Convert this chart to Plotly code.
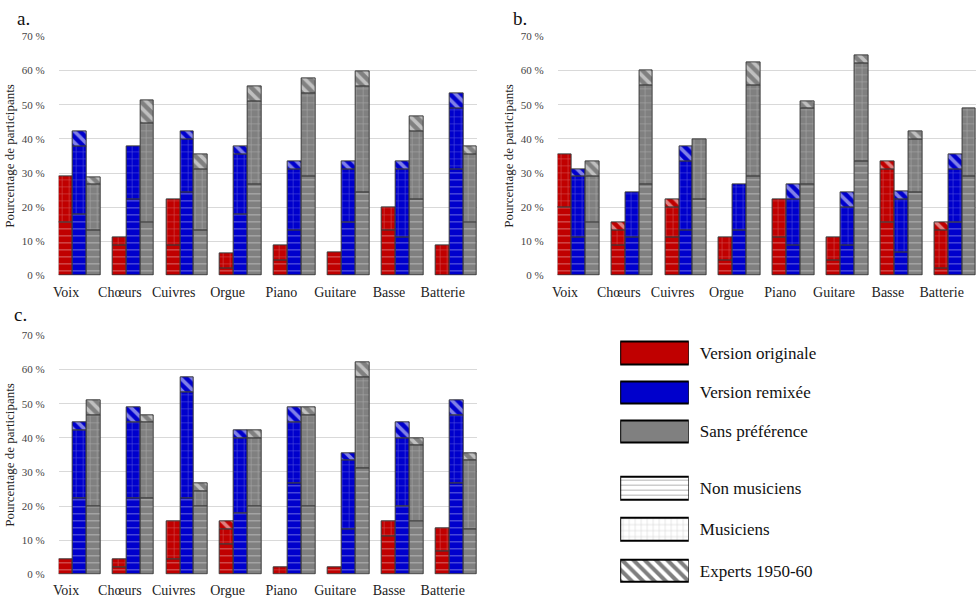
import plotly.graph_objects as go

# ---------------- data ----------------
instruments = ["Voix", "Chœurs", "Cuivres", "Orgue", "Piano", "Guitare", "Basse", "Batterie"]
preferences = ["Version originale", "Version remixée", "Sans préférence"]
groups = ["Non musiciens", "Musiciens", "Experts 1950-60"]
y_ticks = [0, 10, 20, 30, 40, 50, 60, 70]
y_tick_labels = ["0 %", "10 %", "20 %", "30 %", "40 %", "50 %", "60 %", "70 %"]

# panel a
a_orig_nm = [15.6, 8.9, 8.9, 2.2, 4.4, 6.7, 13.3, 0]
a_orig_m = [13.3, 2.2, 13.3, 4.4, 4.4, 0, 6.7, 8.9]
a_orig_e = [0, 0, 0, 0, 0, 0, 0, 0]
a_remix_nm = [17.8, 22.2, 24.4, 17.8, 13.3, 15.6, 11.1, 31.1]
a_remix_m = [20.0, 15.6, 15.6, 17.8, 17.8, 15.6, 20.0, 17.8]
a_remix_e = [4.4, 0, 2.2, 2.2, 2.2, 2.2, 2.2, 4.4]
a_none_nm = [13.3, 15.6, 13.3, 26.7, 28.9, 24.4, 22.2, 15.6]
a_none_m = [13.3, 28.9, 17.8, 24.4, 24.4, 31.1, 20.0, 20.0]
a_none_e = [2.2, 6.7, 4.4, 4.4, 4.4, 4.4, 4.4, 2.2]

# panel b
b_orig_nm = [20.0, 8.9, 11.1, 4.4, 11.1, 4.4, 15.6, 2.2]
b_orig_m = [15.6, 4.4, 8.9, 6.7, 11.1, 6.7, 15.6, 11.1]
b_orig_e = [0, 2.2, 2.2, 0, 0, 0, 2.2, 2.2]
b_remix_nm = [11.1, 11.1, 13.3, 13.3, 8.9, 8.9, 6.7, 15.6]
b_remix_m = [17.8, 13.3, 20.0, 13.3, 13.3, 11.1, 15.6, 15.6]
b_remix_e = [2.2, 0, 4.4, 0, 4.4, 4.4, 2.2, 4.4]
b_none_nm = [15.6, 26.7, 22.2, 28.9, 26.7, 33.3, 24.4, 28.9]
b_none_m = [13.3, 28.9, 17.8, 26.7, 22.2, 28.9, 15.6, 20.0]
b_none_e = [4.4, 4.4, 0, 6.7, 2.2, 2.2, 2.2, 0]

# panel c
c_orig_nm = [4.4, 2.2, 4.4, 8.9, 0, 2.2, 11.1, 6.7]
c_orig_m = [0, 2.2, 11.1, 4.4, 2.2, 0, 4.4, 6.7]
c_orig_e = [0, 0, 0, 2.2, 0, 0, 0, 0]
c_remix_nm = [22.2, 22.2, 22.2, 17.8, 26.7, 13.3, 20.0, 26.7]
c_remix_m = [20.0, 22.2, 31.1, 22.2, 17.8, 20.0, 20.0, 20.0]
c_remix_e = [2.2, 4.4, 4.4, 2.2, 4.4, 2.2, 4.4, 4.4]
c_none_nm = [20.0, 22.2, 20.0, 20.0, 20.0, 31.1, 15.6, 13.3]
c_none_m = [26.7, 22.2, 4.4, 20.0, 26.7, 26.7, 22.2, 20.0]
c_none_e = [4.4, 2.2, 2.2, 2.2, 2.2, 4.4, 2.2, 2.2]

panels = {
    "a": [[a_orig_nm, a_orig_m, a_orig_e], [a_remix_nm, a_remix_m, a_remix_e], [a_none_nm, a_none_m, a_none_e]],
    "b": [[b_orig_nm, b_orig_m, b_orig_e], [b_remix_nm, b_remix_m, b_remix_e], [b_none_nm, b_none_m, b_none_e]],
    "c": [[c_orig_nm, c_orig_m, c_orig_e], [c_remix_nm, c_remix_m, c_remix_e], [c_none_nm, c_none_m, c_none_e]],
}

# ---------------- styles ----------------
W, H = 976, 605
FONT = "Liberation Serif"
pref_colors = ["#C00000", "#0000CC", "#808080"]
bar_w = 0.258
patterns = [
    dict(shape="-", fgcolor="rgba(255,255,255,0.85)", size=7, solidity=0.14),
    dict(shape="+", fgcolor="rgba(255,255,255,0.6)", size=7, solidity=0.16),
    dict(shape="\\", fgcolor="#FFFFFF", size=8, solidity=0.45),
]
axis_ids = {"a": ("x", "y"), "b": ("x2", "y2"), "c": ("x3", "y3")}

fig = go.Figure()
idx = list(range(len(instruments)))
for key, prefs in panels.items():
    xa, ya = axis_ids[key]
    for p, segs in enumerate(prefs):
        xs = [i + (p - 1) * bar_w for i in idx]
        for g, vals in enumerate(segs):
            yv = [v if v else None for v in vals]
            pat = dict(patterns[g])
            pat["bgcolor"] = pref_colors[p]
            fig.add_trace(go.Bar(
                x=xs, y=yv, width=bar_w, xaxis=xa, yaxis=ya,
                marker=dict(color=pref_colors[p], pattern=pat,
                            line=dict(color="#3a3a3a", width=1)),
                name=f"{preferences[p]} – {groups[g]}", showlegend=False,
                hoverinfo="skip",
            ))

# legend boxes (colors)
for p, name in enumerate(preferences):
    fig.add_trace(go.Bar(
        x=[1], y=[name], orientation="h", width=0.575, xaxis="x4", yaxis="y4",
        marker=dict(color=pref_colors[p], line=dict(color="#000000", width=2)),
        showlegend=False, hoverinfo="skip",
    ))
leg_pats = [
    dict(shape="-", fgcolor="#000000", bgcolor="#FFFFFF", size=5, solidity=0.12),
    dict(shape="+", fgcolor="#666666", bgcolor="#FFFFFF", size=6, solidity=0.1),
    dict(shape="\\", fgcolor="#000000", bgcolor="#FFFFFF", size=8, solidity=0.5),
]
for g, name in enumerate(groups):
    fig.add_trace(go.Bar(
        x=[1], y=[name], orientation="h", width=0.55, xaxis="x5", yaxis="y5",
        marker=dict(color="#FFFFFF", pattern=leg_pats[g], line=dict(color="#000000", width=2)),
        showlegend=False, hoverinfo="skip",
    ))

def xd(px0, px1):
    return [px0 / W, px1 / W]

def yd(top, bottom):
    return [1 - bottom / H, 1 - top / H]

xr = [-0.3875, len(instruments) - 1 + 0.3875]
xcommon = dict(range=xr, tickmode="array", tickvals=[i - 0.25 for i in idx], ticktext=instruments,
               showgrid=False, zeroline=False, showline=False, ticks="", ticklabelstandoff=6,
               tickfont=dict(family=FONT, size=14, color="#222"), fixedrange=True)
ycommon = dict(range=[0, 70], tickmode="array", tickvals=y_ticks, ticktext=y_tick_labels,
               showgrid=True, gridcolor="#D9D9D9", gridwidth=1, zeroline=False, showline=False,
               ticks="", ticklabelstandoff=13,
               tickfont=dict(family=FONT, size=11, color="#444"),
               title=dict(text="Pourcentage de participants", font=dict(family=FONT, size=13, color="#222"),
                          standoff=4),
               fixedrange=True)

fig.update_layout(
    width=W, height=H, margin=dict(l=0, r=0, t=0, b=0),
    font=dict(family=FONT),
    paper_bgcolor="white", plot_bgcolor="white",
    barmode="relative", bargap=0, showlegend=False,
    xaxis=dict(domain=xd(53, 474), anchor="y", **xcommon),
    yaxis=dict(domain=yd(31, 275), anchor="x", **ycommon),
    xaxis2=dict(domain=xd(555, 976), anchor="y2", **xcommon),
    yaxis2=dict(domain=yd(31, 275), anchor="x2", **ycommon),
    xaxis3=dict(domain=xd(53, 474), anchor="y3", **xcommon),
    yaxis3=dict(domain=yd(336, 580), anchor="x3", **ycommon),
    xaxis4=dict(domain=xd(618, 687), anchor="y4", range=[0, 1], visible=False, fixedrange=True),
    yaxis4=dict(domain=yd(334, 454), anchor="x4", type="category", categoryarray=preferences,
                autorange="reversed", side="right", showgrid=False, zeroline=False, showline=False,
                ticks="", ticklabelstandoff=10,
                tickfont=dict(family=FONT, size=17, color="#111"), fixedrange=True),
    xaxis5=dict(domain=xd(618, 687), anchor="y5", range=[0, 1], visible=False, fixedrange=True),
    yaxis5=dict(domain=yd(471, 597), anchor="x5", type="category", categoryarray=groups,
                autorange="reversed", side="right", showgrid=False, zeroline=False, showline=False,
                ticks="", ticklabelstandoff=10,
                tickfont=dict(family=FONT, size=17, color="#111"), fixedrange=True),
    annotations=[
        dict(text="a.", x=9 / W, y=1 - 0 / H, xref="paper", yref="paper", xanchor="left", yanchor="top",
             showarrow=False, font=dict(family=FONT, size=19, color="#111")),
        dict(text="b.", x=508 / W, y=1 - 0 / H, xref="paper", yref="paper", xanchor="left", yanchor="top",
             showarrow=False, font=dict(family=FONT, size=19, color="#111")),
        dict(text="c.", x=6 / W, y=1 - 302 / H, xref="paper", yref="paper", xanchor="left", yanchor="top",
             showarrow=False, font=dict(family=FONT, size=19, color="#111")),
    ],
)

fig.write_html("out.html")
